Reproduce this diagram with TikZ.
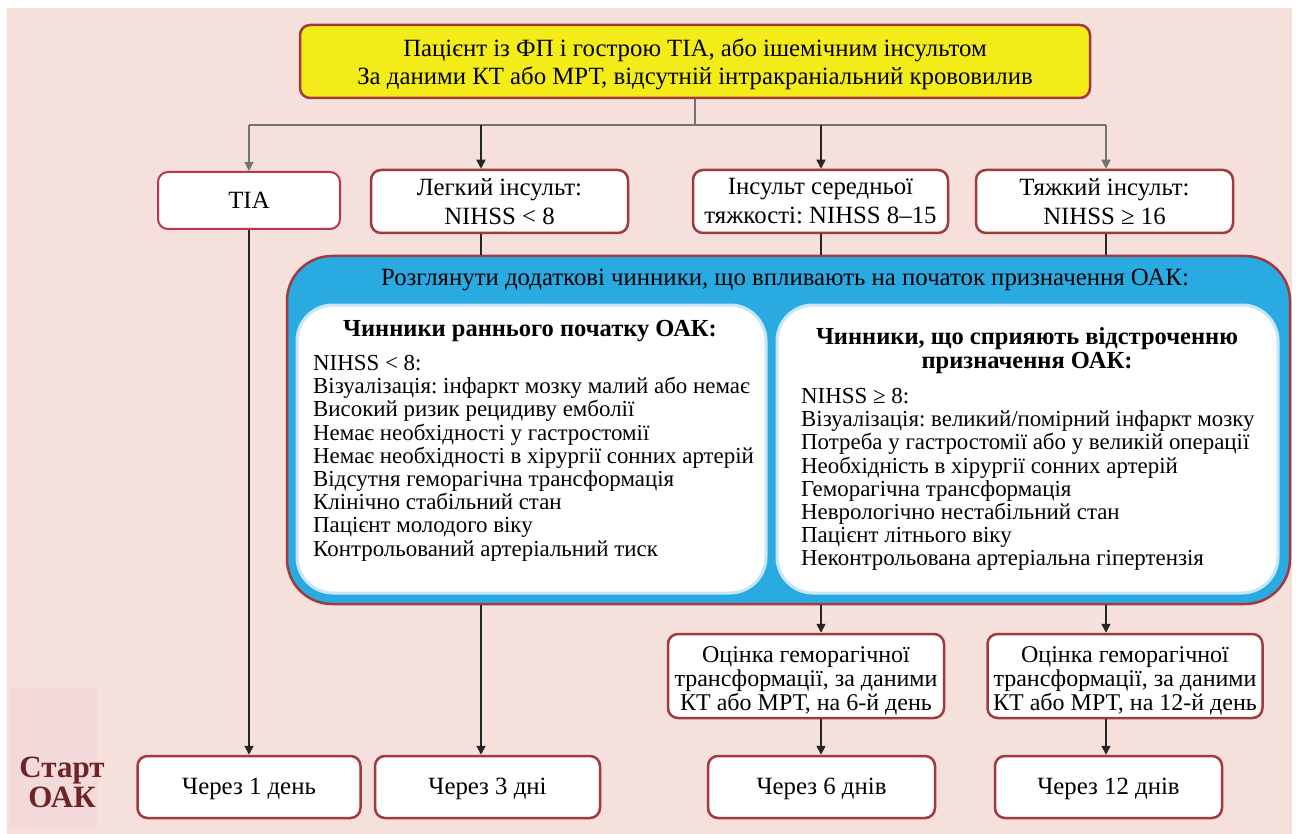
\documentclass[tikz,border=0pt]{standalone}
\usepackage{fontspec}
\setmainfont{Liberation Serif}
\usetikzlibrary{arrows.meta,positioning}
\definecolor{fcpink}{HTML}{F5E0DC}
\definecolor{fcpatch}{HTML}{F2DADA}
\definecolor{fcred}{HTML}{A03A3E}
\definecolor{fctia}{HTML}{B8364F}
\definecolor{fcyellow}{HTML}{F3EC19}
\definecolor{fcblue}{HTML}{29ABE2}
\definecolor{fcglow}{HTML}{C8E6F6}
\definecolor{fcdark}{HTML}{6E2424}
\frenchspacing

\begin{document}
\begin{tikzpicture}[x=1pt, y=-1pt,
    every node/.style={font=\fontsize{24.8}{29}\selectfont, inner sep=0pt, align=center},
    box/.style={draw=fcred, line width=2.5pt, fill=white, rounded corners=10pt},
    inbox/.style={draw=fcglow, line width=3pt, fill=white, rounded corners=36pt},
    title/.style={font=\bfseries\fontsize{24.5}{24}\selectfont},
    list/.style={font=\fontsize{22.9}{23.2}\selectfont, align=left, anchor=north west},
    arr/.style={-{Triangle[width=9pt,length=9pt]}, line width=1.6pt, black!85},
    branch/.style={line width=1.2pt, black!55}]
  \useasboundingbox (0,0) rectangle (1298,834);
  \fill[fcpink] (7,8) rectangle (1292,834);
  \fill[fcpatch] (10,687) rectangle (97,827);

  % top
  \node[box, fill=fcyellow, minimum width=790, minimum height=73, font=\fontsize{24.8}{28}\selectfont] (top) at (695,61.5)
    {\rule{0pt}{24pt}Пацієнт із ФП і гострою TIA, або ішемічним інсультом\\
     За даними КТ або МРТ, відсутній інтракраніальний крововилив};

  % stroke classes
  \node[box, draw=fctia, line width=2pt, minimum width=182, minimum height=57] (tia) at (249,200.5) {TIA};
  \node[box, minimum width=257, minimum height=63] (mild) at (499.5,201.5) {Легкий інсульт:\\NIHSS < 8};
  \node[box, minimum width=255, minimum height=63] (mod) at (820.5,201.5) {Інсульт середньої\\тяжкості: NIHSS 8–15};
  \node[box, minimum width=257, minimum height=63] (sev) at (1104.5,201.5) {Тяжкий інсульт:\\NIHSS ≥ 16};

  \coordinate (c1) at (249,125);
  \coordinate (c2) at (481,125);
  \coordinate (c3) at (821,125);
  \coordinate (c4) at (1106,125);

  % factors
  \node[draw=fcred, line width=2.5pt, fill=fcblue, rounded corners=45pt, minimum width=1003, minimum height=348] (blue) at (788.5,430) {};
  \node (head) at (785,280) {Розглянути додаткові чинники, що впливають на початок призначення ОАК:};
  \node[inbox, minimum width=469, minimum height=288] (early) at (531.5,449) {};
  \node[inbox, minimum width=501, minimum height=288] (late) at (1027.5,449) {};
  \node[title] (earlyt) at (530,331) {Чинники раннього початку ОАК:};
  \node[title] (latet) at (1027,351) {Чинники, що сприяють відстроченню\\призначення ОАК:};
  \node[list] (earlyl) at (313,355)
    {NIHSS < 8:\\
     Візуалізація: інфаркт мозку малий або немає\\
     Високий ризик рецидиву емболії\\
     Немає необхідності у гастростомії\\
     Немає необхідності в хірургії сонних артерій\\
     Відсутня геморагічна трансформація\\
     Клінічно стабільний стан\\
     Пацієнт молодого віку\\
     Контрольований артеріальний тиск};
  \node[list] (latel) at (801,388)
    {NIHSS ≥ 8:\\
     Візуалізація: великий/помірний інфаркт мозку\\
     Потреба у гастростомії або у великій операції\\
     Необхідність в хірургії сонних артерій\\
     Геморагічна трансформація\\
     Неврологічно нестабільний стан\\
     Пацієнт літнього віку\\
     Неконтрольована артеріальна гіпертензія};

  % imaging checks
  \node[box, minimum width=276, minimum height=84, font=\fontsize{24}{23.8}\selectfont] (eval6) at (806,676)
    {\rule{0pt}{26pt}Оцінка геморагічної\\трансформації, за даними\\КТ або МРТ, на 6-й день};
  \node[box, minimum width=275, minimum height=84, font=\fontsize{24}{23.8}\selectfont] (eval12) at (1125,676)
    {\rule{0pt}{26pt}Оцінка геморагічної\\трансформації, за даними\\КТ або МРТ, на 12-й день};

  % start
  \node[box, minimum width=223, minimum height=62] (day1) at (249,787) {\rule{0pt}{20pt}Через 1 день};
  \node[box, minimum width=225, minimum height=62] (day3) at (487.5,787) {\rule{0pt}{20pt}Через 3 дні};
  \node[box, minimum width=227, minimum height=62] (day6) at (821.5,787) {\rule{0pt}{20pt}Через 6 днів};
  \node[box, minimum width=227, minimum height=62] (day12) at (1108.5,787) {\rule{0pt}{20pt}Через 12 днів};
  \node[font=\bfseries\fontsize{31}{30}\selectfont, text=fcdark] (start) at (62,782) {Старт\\ОАК};

  % connectors
  \draw[branch] (top.south) -- (top.south |- c1);
  \draw[branch] (c1) -- (c4);
  \draw[arr, branch] (c1) -- (tia.north);
  \draw[arr] (c2) -- (c2 |- mild.north);
  \draw[arr] (c3) -- (c3 |- mod.north);
  \draw[arr, branch] (c4) -- (c4 |- sev.north);
  \draw[line width=1.6pt, black!85] (c2 |- mild.south) -- (c2 |- blue.north);
  \draw[line width=1.6pt, black!85] (c3 |- mod.south) -- (c3 |- blue.north);
  \draw[line width=1.6pt, black!85] (c4 |- sev.south) -- (c4 |- blue.north);
  \draw[arr] (tia.south) -- (day1.north);
  \draw[arr] (c2 |- blue.south) -- (c2 |- day3.north);
  \draw[arr] (c3 |- blue.south) -- (c3 |- eval6.north);
  \draw[arr] (c3 |- eval6.south) -- (c3 |- day6.north);
  \draw[arr] (c4 |- blue.south) -- (c4 |- eval12.north);
  \draw[arr] (c4 |- eval12.south) -- (c4 |- day12.north);
\end{tikzpicture}
\end{document}
